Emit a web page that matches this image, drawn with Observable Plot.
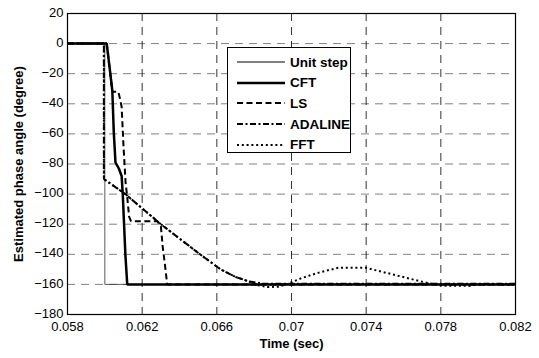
<!DOCTYPE html>
<html>
<head>
<meta charset="utf-8">
<script src="https://cdn.jsdelivr.net/npm/d3@7"></script>
<script src="https://cdn.jsdelivr.net/npm/@observablehq/plot@0.6"></script>
<style>
  html, body { margin: 0; padding: 0; background: #fff; }
  #wrap { position: relative; width: 539px; height: 358px; font-family: "Liberation Sans", Arial, sans-serif; }
  #wrap > svg { position: absolute; left: 0; top: 0; }
  g[aria-label="x-axis label"] text, g[aria-label="y-axis label"] text { font-weight: bold; }
  #legend { position: absolute; left: 227px; top: 47px; width: 124px; height: 106px; border: 1px solid #000; background: #fff; box-sizing: border-box; }
  .row { position: absolute; left: 9px; height: 20px; display: flex; align-items: center; font-weight: bold; font-size: 13.5px; color: #000; white-space: nowrap; }
  .row svg { display: block; margin-right: 5px; }
</style>
</head>
<body>
<div id="wrap"></div>
<script>
// ---- data (time in sec, phase in degree) ----
const xTicks = [0.058, 0.062, 0.066, 0.07, 0.074, 0.078, 0.082];
const yTicks = [20, 0, -20, -40, -60, -80, -100, -120, -140, -160, -180];

const unitStep = [[0.058, 0], [0.060, 0], [0.060, -160], [0.082, -160]];

const cft = [[0.058, 0], [0.0601, 0], [0.06015, -5], [0.0604, -31], [0.06048, -59], [0.06057, -79],
  [0.06075, -83], [0.0609, -88], [0.06096, -100], [0.0611, -140], [0.0612, -160], [0.082, -160]];

const ls = [[0.058, 0], [0.0601, 0], [0.06015, -5], [0.0604, -32], [0.06072, -32], [0.0608, -36],
  [0.0609, -42], [0.0610, -68], [0.06111, -92], [0.0612, -102], [0.0613, -115], [0.0614, -118],
  [0.0628, -118], [0.0630, -121], [0.0631, -135], [0.06325, -150], [0.06334, -160], [0.082, -160]];

const adaline = [[0.058, 0], [0.05995, 0], [0.05995, -90], [0.0611, -100], [0.0630, -120],
  [0.0651, -140], [0.0662, -150], [0.0670, -155], [0.0677, -158], [0.0685, -159.5], [0.082, -159.5]];

const fft = [[0.058, 0], [0.05995, 0], [0.05995, -90], [0.0611, -100], [0.0630, -120], [0.0651, -140],
  [0.0662, -150], [0.0670, -155], [0.0676, -157.5], [0.0682, -160.5], [0.0687, -161.8], [0.0693, -161.5],
  [0.0698, -159.7], [0.0705, -156], [0.0715, -152], [0.0725, -149], [0.0740, -149], [0.0753, -153],
  [0.0764, -156.4], [0.0772, -158.8], [0.0780, -160.8], [0.0795, -161], [0.0800, -160], [0.082, -160]];

const seriesNames = ["Unit step", "CFT", "LS", "ADALINE", "FFT"];
const styles = {
  "Unit step": {stroke: "#333", strokeWidth: 0.8, dash: null},
  "CFT": {stroke: "#000", strokeWidth: 2.5, dash: null},
  "LS": {stroke: "#000", strokeWidth: 2, dash: "6,3.5"},
  "ADALINE": {stroke: "#000", strokeWidth: 2, dash: "6,2.5,2,2.5"},
  "FFT": {stroke: "#000", strokeWidth: 2, dash: "2,2.8"}
};
const seriesData = {"Unit step": unitStep, "CFT": cft, "LS": ls, "ADALINE": adaline, "FFT": fft};

const lineMark = (name) => Plot.line(seriesData[name], {
  x: d => d[0], y: d => d[1],
  stroke: styles[name].stroke, strokeWidth: styles[name].strokeWidth,
  strokeDasharray: styles[name].dash || undefined, strokeLinejoin: "miter", strokeLinecap: "butt"
});

const chart = Plot.plot({
  width: 539, height: 358,
  marginLeft: 67, marginRight: 24, marginTop: 13, marginBottom: 44,
  style: {fontFamily: "'Liberation Sans', Arial, sans-serif", fontSize: "13px", color: "#000", background: "#fff"},
  x: {domain: [0.058, 0.082]},
  y: {domain: [-180, 20]},
  marks: [
    Plot.ruleY(yTicks.slice(1, -1), {stroke: "#808080", strokeWidth: 1, strokeDasharray: "8,6"}),
    Plot.ruleX(xTicks.slice(1, -1), {stroke: "#000", strokeWidth: 0.8, strokeDasharray: "8,6"}),
    lineMark("Unit step"),
    lineMark("FFT"),
    lineMark("ADALINE"),
    lineMark("LS"),
    lineMark("CFT"),
    Plot.frame({stroke: "#000", strokeWidth: 1.2}),
    Plot.axisX({ticks: xTicks, tickFormat: d3.format("~g"), tickSize: 0, tickPadding: 7, fontSize: 13,
      label: "Time (sec)", labelAnchor: "center", labelArrow: "none", labelOffset: 33}),
    Plot.axisY({ticks: yTicks, tickFormat: d3.format("d"), tickSize: 0, tickPadding: 4, fontSize: 13, dy: -1,
      label: "Estimated phase angle (degree)", labelAnchor: "center", labelArrow: "none", labelOffset: 54})
  ]
});

const wrap = document.getElementById("wrap");
wrap.appendChild(chart);

const legend = document.createElement("div");
legend.id = "legend";
seriesNames.forEach((name, i) => {
  const row = document.createElement("div");
  row.className = "row";
  row.style.top = (4 + i * 20.7) + "px";
  const s = styles[name];
  row.innerHTML = `<svg width="48" height="6"><line x1="0" y1="3" x2="48" y2="3" stroke="#000" stroke-width="${name === "Unit step" ? 1 : s.strokeWidth}" ${s.dash ? `stroke-dasharray="${s.dash}"` : ""}/></svg><span>${name}</span>`;
  legend.appendChild(row);
});
wrap.appendChild(legend);
</script>
</body>
</html>
